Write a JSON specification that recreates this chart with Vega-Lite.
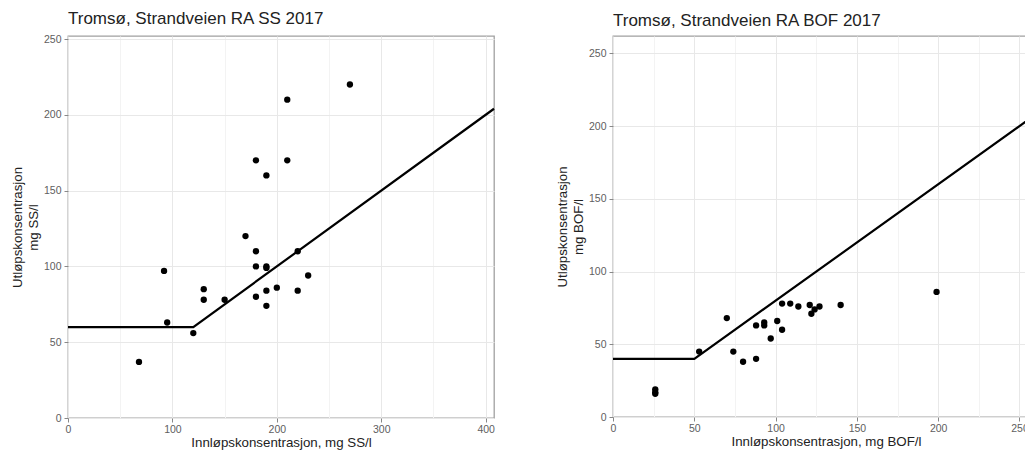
{
  "$schema": "https://vega.github.io/schema/vega-lite/v6.json",
  "padding": {"left": 9, "top": 9, "right": 0, "bottom": 0},
  "background": "white",
  "spacing": 54,
  "config": {
    "font": "Liberation Sans",
    "view": {"stroke": "#a0a0a0", "strokeWidth": 1.3},
    "axis": {
      "domain": false,
      "tickColor": "#888888",
      "tickSize": 4,
      "labelFontSize": 10.5,
      "labelColor": "#606060",
      "titleFontSize": 13.3,
      "titleFontWeight": "normal",
      "titleColor": "#222222",
      "gridColor": "#ebebeb",
      "labelFlush": false,
      "labelOverlap": false
    },
    "axisX": {"labelPadding": 2, "titlePadding": 1},
    "axisY": {"labelPadding": 3, "titlePadding": 3, "titleLineHeight": 16},
    "title": {"fontSize": 17, "fontWeight": "normal", "color": "#222222", "anchor": "start", "frame": "group", "baseline": "alphabetic", "offset": 6}
  },
  "datasets": {
    "ss": [
      {"inn": 270, "ut": 220}, {"inn": 210, "ut": 210}, {"inn": 180, "ut": 170}, {"inn": 210, "ut": 170},
      {"inn": 190, "ut": 160}, {"inn": 170, "ut": 120}, {"inn": 180, "ut": 110}, {"inn": 220, "ut": 110},
      {"inn": 180, "ut": 100}, {"inn": 190, "ut": 100}, {"inn": 190, "ut": 99}, {"inn": 230, "ut": 94},
      {"inn": 92, "ut": 97}, {"inn": 200, "ut": 86}, {"inn": 190, "ut": 84}, {"inn": 220, "ut": 84},
      {"inn": 130, "ut": 85}, {"inn": 130, "ut": 78}, {"inn": 150, "ut": 78}, {"inn": 180, "ut": 80},
      {"inn": 190, "ut": 74}, {"inn": 95, "ut": 63}, {"inn": 120, "ut": 56}, {"inn": 68, "ut": 37}
    ],
    "ssline": [{"inn": 0, "ut": 60}, {"inn": 120, "ut": 60}, {"inn": 408, "ut": 204}],
    "bof": [
      {"inn": 199, "ut": 86}, {"inn": 104, "ut": 78}, {"inn": 109, "ut": 78}, {"inn": 114, "ut": 76},
      {"inn": 121, "ut": 77}, {"inn": 127, "ut": 76}, {"inn": 124, "ut": 74}, {"inn": 122, "ut": 71},
      {"inn": 140, "ut": 77}, {"inn": 70, "ut": 68}, {"inn": 101, "ut": 66}, {"inn": 104, "ut": 60},
      {"inn": 88, "ut": 63}, {"inn": 93, "ut": 65}, {"inn": 93, "ut": 63}, {"inn": 97, "ut": 54},
      {"inn": 74, "ut": 45}, {"inn": 53, "ut": 45}, {"inn": 80, "ut": 38}, {"inn": 88, "ut": 40},
      {"inn": 26, "ut": 19}, {"inn": 26, "ut": 16}, {"inn": 26, "ut": 17}
    ],
    "bofline": [{"inn": 0, "ut": 40}, {"inn": 50, "ut": 40}, {"inn": 262, "ut": 209.6}]
  },
  "hconcat": [
    {
      "width": 426,
      "height": 382,
      "title": {"text": "Tromsø, Strandveien RA SS 2017"},
      "layer": [
        {
          "data": {"name": "ss"},
          "mark": {"type": "circle", "size": 40, "color": "black", "opacity": 1},
          "encoding": {
            "x": {
              "field": "inn", "type": "quantitative",
              "scale": {"domain": [0, 408], "nice": false, "zero": false},
              "axis": {
                "title": "Innløpskonsentrasjon, mg SS/l",
                "values": [0, 50, 100, 150, 200, 250, 300, 350, 400],
                "labelExpr": "datum.value % 100 === 0 ? datum.label : ''",
                "tickOpacity": {"condition": {"test": "datum.value % 100 === 0", "value": 1}, "value": 0},
                "gridColor": {"condition": {"test": "datum.value % 100 === 0", "value": "#e8e8e8"}, "value": "#f3f3f3"}
              }
            },
            "y": {
              "field": "ut", "type": "quantitative",
              "scale": {"domain": [0, 252], "nice": false, "zero": false},
              "axis": {
                "title": ["Utløpskonsentrasjon", "mg SS/l"],
                "values": [0, 25, 50, 75, 100, 125, 150, 175, 200, 225, 250],
                "labelExpr": "datum.value % 50 === 0 ? datum.label : ''",
                "tickOpacity": {"condition": {"test": "datum.value % 50 === 0", "value": 1}, "value": 0},
                "gridColor": {"condition": {"test": "datum.value % 50 === 0", "value": "#e8e8e8"}, "value": "#f3f3f3"}
              }
            }
          }
        },
        {
          "data": {"name": "ssline"},
          "mark": {"type": "line", "color": "black", "strokeWidth": 2.2},
          "encoding": {
            "x": {"field": "inn", "type": "quantitative"},
            "y": {"field": "ut", "type": "quantitative"}
          }
        }
      ]
    },
    {
      "width": 426,
      "height": 381,
      "title": {"text": "Tromsø, Strandveien RA BOF 2017"},
      "layer": [
        {
          "data": {"name": "bof"},
          "mark": {"type": "circle", "size": 40, "color": "black", "opacity": 1},
          "encoding": {
            "x": {
              "field": "inn", "type": "quantitative",
              "scale": {"domain": [0, 262], "nice": false, "zero": false},
              "axis": {
                "title": "Innløpskonsentrasjon, mg BOF/l",
                "values": [0, 25, 50, 75, 100, 125, 150, 175, 200, 225, 250],
                "labelExpr": "datum.value % 50 === 0 ? datum.label : ''",
                "tickOpacity": {"condition": {"test": "datum.value % 50 === 0", "value": 1}, "value": 0},
                "gridColor": {"condition": {"test": "datum.value % 50 === 0", "value": "#e8e8e8"}, "value": "#f3f3f3"}
              }
            },
            "y": {
              "field": "ut", "type": "quantitative",
              "scale": {"domain": [0, 262], "nice": false, "zero": false},
              "axis": {
                "title": ["Utløpskonsentrasjon", "mg BOF/l"],
                "values": [0, 25, 50, 75, 100, 125, 150, 175, 200, 225, 250],
                "labelExpr": "datum.value % 50 === 0 ? datum.label : ''",
                "tickOpacity": {"condition": {"test": "datum.value % 50 === 0", "value": 1}, "value": 0},
                "gridColor": {"condition": {"test": "datum.value % 50 === 0", "value": "#e8e8e8"}, "value": "#f3f3f3"}
              }
            }
          }
        },
        {
          "data": {"name": "bofline"},
          "mark": {"type": "line", "color": "black", "strokeWidth": 2.2},
          "encoding": {
            "x": {"field": "inn", "type": "quantitative"},
            "y": {"field": "ut", "type": "quantitative"}
          }
        }
      ]
    }
  ]
}
